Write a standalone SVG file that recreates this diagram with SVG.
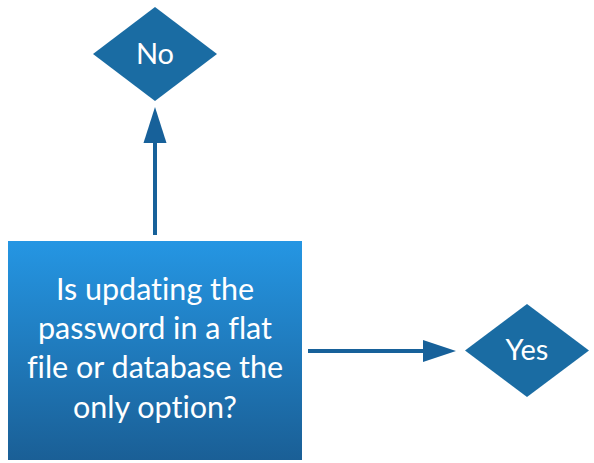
<svg xmlns="http://www.w3.org/2000/svg" width="594" height="463" viewBox="0 0 594 463">
<defs>
<linearGradient id="g" x1="0" y1="0" x2="0" y2="1">
<stop offset="0" stop-color="#2596e3"/>
<stop offset="1" stop-color="#1a5f96"/>
</linearGradient>
</defs>
<style>
.d{fill:#1a6ca3}
.t{font-family:Lato,"Open Sans",sans-serif;fill:#fff;text-anchor:middle;font-variant-ligatures:none}
.c{stroke:#17619a;stroke-width:4;fill:none}
.h{fill:#17619a}
</style>
<rect width="594" height="463" fill="#fff"/>
<g id="connectors">
<line class="c" x1="155" y1="235" x2="155" y2="140"/>
<polygon class="h" points="155,107 166.5,143 143.5,143"/>
<line class="c" x1="308" y1="351" x2="426" y2="351"/>
<polygon class="h" points="456,351 423,340 423,362"/>
</g>
<g id="question">
<rect x="8" y="241" width="294" height="219" fill="url(#g)"/>
<text class="t" font-size="30.5"><tspan x="155" y="300">Is updating the</tspan><tspan x="155" y="339">password in a flat</tspan><tspan x="155" y="378">file or database the</tspan><tspan x="155" y="418">only option?</tspan></text>
</g>
<g id="no">
<polygon class="d" points="155,7 217,54 155,101 93,54"/>
<text class="t" x="155" y="64" font-size="29">No</text>
</g>
<g id="yes">
<polygon class="d" points="527,304 589,350.5 527,397 465,350.5"/>
<text class="t" x="527" y="360" font-size="29">Yes</text>
</g>
</svg>
